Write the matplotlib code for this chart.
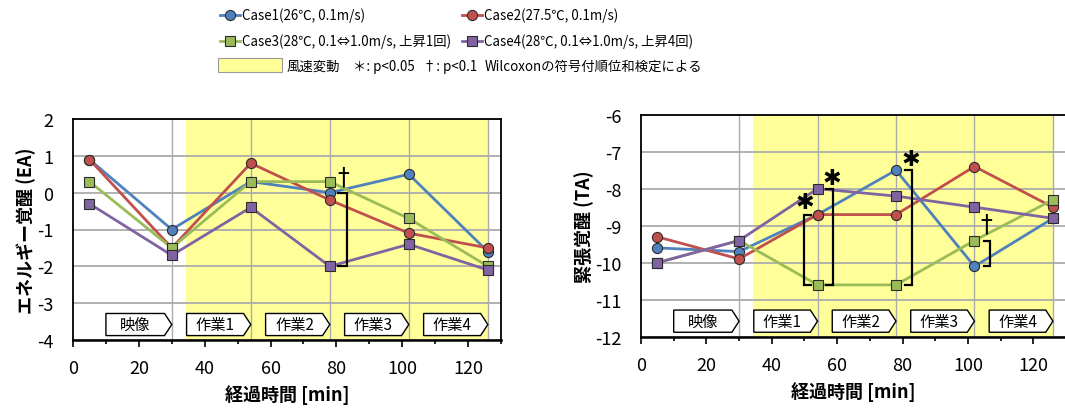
import matplotlib
matplotlib.use("Agg")
import matplotlib.pyplot as plt
from matplotlib.patches import Polygon, Rectangle
from matplotlib.lines import Line2D

plt.rcParams['font.family'] = ['Noto Sans CJK JP', 'DejaVu Sans']
plt.rcParams['axes.unicode_minus'] = False

# measurement times [min]
time = [5, 30, 54, 78, 102, 126]

case_labels = ['Case1(26℃, 0.1m/s)', 'Case2(27.5℃, 0.1m/s)',
               'Case3(28℃, 0.1⇔1.0m/s, 上昇1回)', 'Case4(28℃, 0.1⇔1.0m/s, 上昇4回)']
case_colors = ['#4F81BD', '#C0504D', '#9BBB59', '#8064A2']
case_markers = ['o', 'o', 's', 's']

# energy arousal (EA)
ea_case1 = [0.9, -1.0, 0.3, 0.0, 0.5, -1.6]
ea_case2 = [0.9, -1.5, 0.8, -0.2, -1.1, -1.5]
ea_case3 = [0.3, -1.5, 0.3, 0.3, -0.7, -2.0]
ea_case4 = [-0.3, -1.7, -0.4, -2.0, -1.4, -2.1]

# tense arousal (TA)
ta_case1 = [-9.6, -9.7, -8.7, -7.5, -10.1, -8.8]
ta_case2 = [-9.3, -9.9, -8.7, -8.7, -7.4, -8.5]
ta_case3 = [-10.0, -9.4, -10.6, -10.6, -9.4, -8.3]
ta_case4 = [-10.0, -9.4, -8.0, -8.2, -8.5, -8.8]

# task phases and wind-speed change period
phase_names = ['映像', '作業1', '作業2', '作業3', '作業4']
phase_start = [10, 34.5, 58.5, 82.5, 106.5]
phase_end = [30, 54, 78, 102, 126]
wind_start, wind_end = 34.3, 126

YELLOW = '#FFFF99'
GRID = '#ABABAB'


def panel(ax, series, ylim, ylabel):
    ax.set_xlim(0, 130)
    ax.set_ylim(*ylim)
    ax.axvspan(wind_start, wind_end, color=YELLOW, zorder=0, lw=0)
    ax.set_yticks(range(ylim[0], ylim[1] + 1))
    ax.grid(axis='y', color=GRID, lw=1.3, zorder=1)
    for t in time[1:]:
        ax.axvline(t, color=GRID, lw=1.0, zorder=1)
    ax.set_xticks(range(0, 121, 20))
    ax.set_xticks(range(10, 131, 20), minor=True)
    ax.tick_params(axis='x', which='major', length=5, width=1.2, pad=9, labelsize=13)
    ax.tick_params(axis='x', which='minor', length=3, width=1.2)
    ax.tick_params(axis='y', length=0, pad=14, labelsize=13)
    for s in ax.spines.values():
        s.set_color('black')
        s.set_linewidth(1.3)
    ax.spines['bottom'].set_linewidth(1.8)

    for vals, c, m in zip(series, case_colors, case_markers):
        ax.plot(time, vals, color=c, lw=2, marker=m,
                ms=7.3 if m == 'o' else 6.8, mfc=c, mec='#2b2b2b', mew=0.8, zorder=3)

    y0 = ylim[0] + 0.12
    y1 = ylim[0] + 0.72
    ym = (y0 + y1) / 2
    for name, a, b in zip(phase_names, phase_start, phase_end):
        ax.add_patch(Polygon([(a, y0), (b - 2.2, y0), (b, ym), (b - 2.2, y1), (a, y1)],
                             closed=True, fc='white', ec='black', lw=1.0, zorder=4))
        ax.text((a + b - 2) / 2, ym, name, ha='center', va='center', fontsize=11, zorder=5)

    ax.set_xlabel('経過時間 [min]', fontsize=13, fontweight='bold', labelpad=5)
    ax.set_ylabel(ylabel, fontsize=13, fontweight='bold', labelpad=1)


def bracket(ax, x_in, x_out, ya, yb):
    ax.plot([x_in, x_out, x_out, x_in], [ya, ya, yb, yb], color='black', lw=1.6, zorder=6,
            solid_joinstyle='miter')


def mark(ax, x, y, s):
    if s == '*':
        ax.text(x, y, '✱', ha='center', va='center', fontsize=16,
                family='DejaVu Sans', zorder=6)
    else:
        ax.text(x, y, '†', ha='center', va='center', fontsize=17,
                family='DejaVu Sans', zorder=6)


fig = plt.figure(figsize=(10.65, 4.10), dpi=100)
ax1 = fig.add_axes([73 / 1065, 69 / 410, 428 / 1065, 221 / 410])
ax2 = fig.add_axes([641 / 1065, 72.3 / 410, 425 / 1065, 222 / 410])

panel(ax1, [ea_case1, ea_case2, ea_case3, ea_case4], (-4, 2), 'エネルギー覚醒 (EA)')
panel(ax2, [ta_case1, ta_case2, ta_case3, ta_case4], (-12, -6), '緊張覚醒 (TA)')

bracket(ax1, 80.6, 83.2, 0.0, -2.0)
mark(ax1, 82.2, 0.45, '+')

bracket(ax2, 52.0, 49.8, -8.7, -10.6)
mark(ax2, 50.0, -8.35, '*')
bracket(ax2, 56.5, 58.7, -8.0, -10.6)
mark(ax2, 58.3, -7.7, '*')
bracket(ax2, 80.9, 82.8, -7.5, -10.6)
mark(ax2, 82.6, -7.2, '*')
bracket(ax2, 104.8, 106.7, -9.4, -10.1)
mark(ax2, 105.7, -8.95, '+')

# legend
FS = 9.6
rows_y = [1 - 16 / 410, 1 - 42 / 410]
cols_x = [220 / 1065, 462 / 1065]
for i, (lab, c, m) in enumerate(zip(case_labels, case_colors, case_markers)):
    x = cols_x[i % 2]
    y = rows_y[i // 2]
    fig.add_artist(Line2D([x, x + 20 / 1065], [y, y], color=c, lw=2,
                          transform=fig.transFigure))
    fig.add_artist(Line2D([x + 10 / 1065], [y], color=c, marker=m,
                          ms=7.3 if m == 'o' else 6.8, mfc=c, mec='#2b2b2b', mew=0.8,
                          transform=fig.transFigure))
    fig.text(x + 22 / 1065, y, lab, ha='left', va='center', fontsize=FS)

y3 = 1 - 67 / 410
fig.add_artist(Rectangle((218 / 1065, 1 - 73 / 410), 64 / 1065, 14 / 410, fc=YELLOW,
                         ec='#999999', lw=0.8, transform=fig.transFigure))
fig.text(287 / 1065, y3, '風速変動', ha='left', va='center', fontsize=FS)
fig.text(353 / 1065, y3, '＊: p<0.05', ha='left', va='center', fontsize=FS)
fig.text(423 / 1065, y3, '†: p<0.1', ha='left', va='center', fontsize=FS)
fig.text(485 / 1065, y3, 'Wilcoxonの符号付順位和検定による', ha='left', va='center', fontsize=FS)

fig.savefig('out.png', dpi=100)
